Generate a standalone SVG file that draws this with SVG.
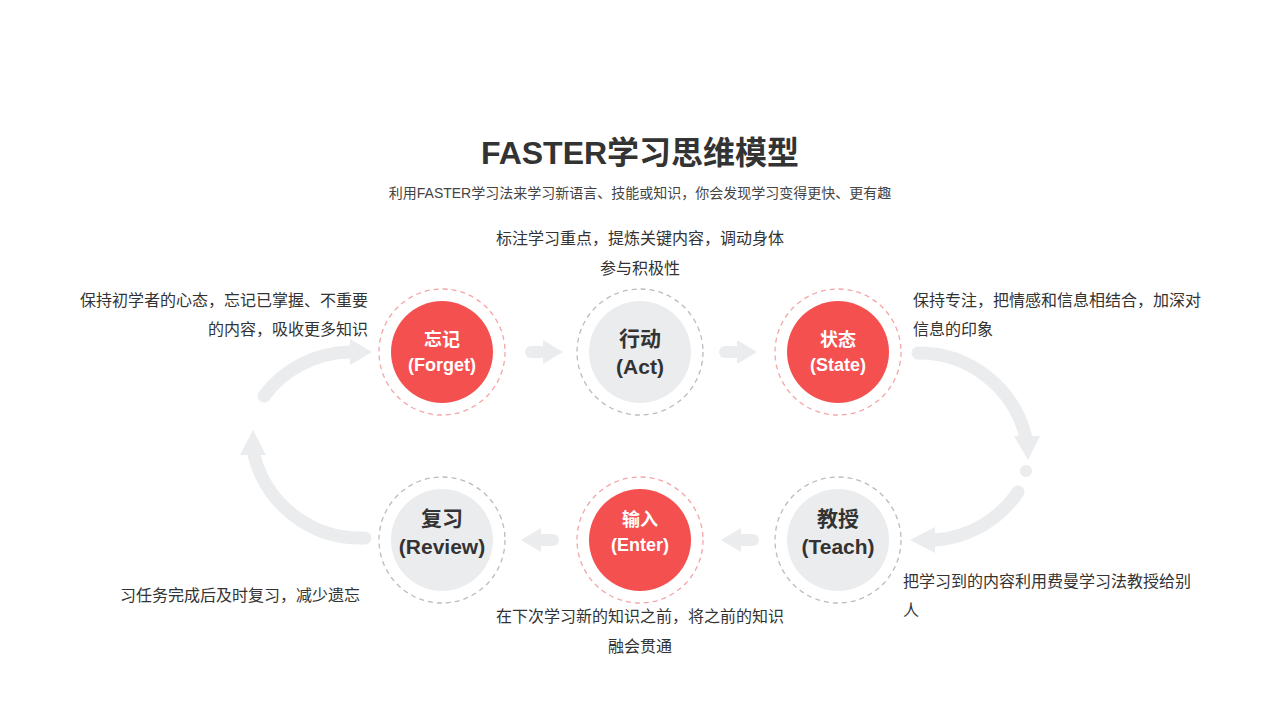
<svg xmlns="http://www.w3.org/2000/svg" width="1280" height="720" viewBox="0 0 1280 720">
<style>
text{font-family:"Liberation Sans","Noto Sans CJK SC",sans-serif}
.t{font-size:32px;font-weight:bold;fill:#333;text-anchor:middle}
.s{font-size:14px;fill:#444;text-anchor:middle}
.d{font-size:16px;fill:#333}
.ring{fill:none;stroke-width:1.3;stroke-dasharray:5 4}
.r{stroke:#f4a6a6}.g{stroke:#b9bcc4}
.nr{fill:#f45050}.ng{fill:#ebecee}
.lw{font-size:18px;font-weight:bold;fill:#fff;text-anchor:middle}
.lg{font-size:21px;font-weight:bold;fill:#333;text-anchor:middle}
.arc{fill:none;stroke:#ebecee;stroke-width:13;stroke-linecap:round}
.ah{fill:#ebecee}
</style>
<rect width="1280" height="720" fill="#fff"/>
<text class="t" x="640" y="164">FASTER学习思维模型</text>
<text class="s" x="640" y="198">利用FASTER学习法来学习新语言、技能或知识，你会发现学习变得更快、更有趣</text>
<g id="connectors">
<path class="arc" d="M918 353 A110 110 0 0 1 1026 438"/>
<polygon class="ah" points="1014,436 1040,436 1028,460"/>
<circle class="ah" cx="1026" cy="471" r="6"/>
<path class="arc" d="M1018 492 A110 110 0 0 1 935 540"/>
<polygon class="ah" points="935,527 935,553 910,540"/>
<path class="arc" d="M365 538 A110 110 0 0 1 254 455"/>
<polygon class="ah" points="240,455 266,455 253,430"/>
<path class="arc" d="M264 396 A110 110 0 0 1 350 352"/>
<polygon class="ah" points="350,339 350,365 372,352"/>
<g class="ah">
<rect x="525" y="346" width="22" height="12" rx="6"/><polygon points="543,340 543,364 563,352"/>
<rect x="719" y="346" width="22" height="12" rx="6"/><polygon points="737,340 737,364 757,352"/>
<rect x="537" y="534" width="22" height="12" rx="6"/><polygon points="541,528 541,552 521,540"/>
<rect x="737" y="534" width="22" height="12" rx="6"/><polygon points="741,528 741,552 721,540"/>
</g>
</g>
<g id="forget"><circle class="ring r" cx="442" cy="352" r="63"/><circle class="nr" cx="442" cy="352" r="51"/><text class="lw" x="442" y="346">忘记</text><text class="lw" x="442" y="371">(Forget)</text></g>
<g id="act"><circle class="ring g" cx="640" cy="352" r="63"/><circle class="ng" cx="640" cy="352" r="51"/><text class="lg" x="640" y="346">行动</text><text class="lg" x="640" y="374">(Act)</text></g>
<g id="state"><circle class="ring r" cx="838" cy="352" r="63"/><circle class="nr" cx="838" cy="352" r="51"/><text class="lw" x="838" y="346">状态</text><text class="lw" x="838" y="371">(State)</text></g>
<g id="review"><circle class="ring g" cx="442" cy="540" r="63"/><circle class="ng" cx="442" cy="540" r="51"/><text class="lg" x="442" y="526">复习</text><text class="lg" x="442" y="554">(Review)</text></g>
<g id="enter"><circle class="ring r" cx="640" cy="540" r="63"/><circle class="nr" cx="640" cy="540" r="51"/><text class="lw" x="640" y="526">输入</text><text class="lw" x="640" y="551">(Enter)</text></g>
<g id="teach"><circle class="ring g" cx="838" cy="540" r="63"/><circle class="ng" cx="838" cy="540" r="51"/><text class="lg" x="838" y="526">教授</text><text class="lg" x="838" y="554">(Teach)</text></g>
<g id="desc">
<text class="d" x="640" y="244" text-anchor="middle">标注学习重点，提炼关键内容，调动身体</text>
<text class="d" x="640" y="274" text-anchor="middle">参与积极性</text>
<text class="d" x="368" y="306" text-anchor="end">保持初学者的心态，忘记已掌握、不重要</text>
<text class="d" x="368" y="335" text-anchor="end">的内容，吸收更多知识</text>
<text class="d" x="913" y="306">保持专注，把情感和信息相结合，加深对</text>
<text class="d" x="913" y="335">信息的印象</text>
<text class="d" x="360" y="601" text-anchor="end">习任务完成后及时复习，减少遗忘</text>
<text class="d" x="903" y="587">把学习到的内容利用费曼学习法教授给别</text>
<text class="d" x="903" y="616">人</text>
<text class="d" x="640" y="622" text-anchor="middle">在下次学习新的知识之前，将之前的知识</text>
<text class="d" x="640" y="652" text-anchor="middle">融会贯通</text>
</g>
</svg>
